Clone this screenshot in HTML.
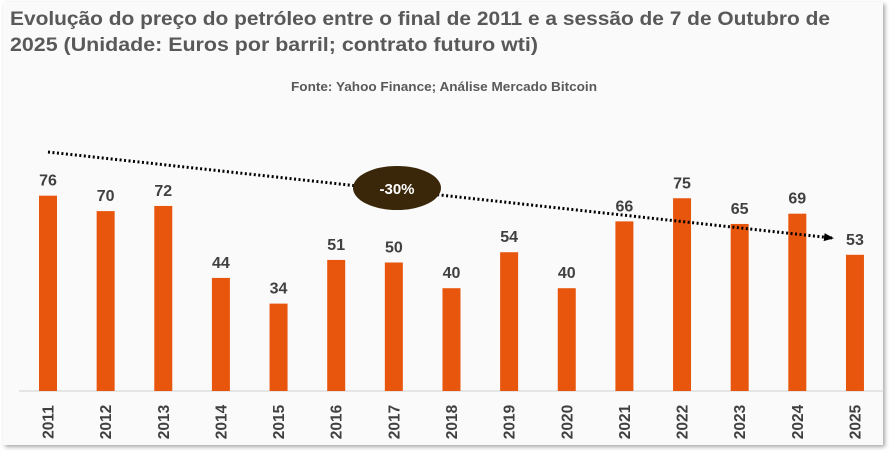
<!DOCTYPE html>
<html><head><meta charset="utf-8"><style>
body{margin:0;width:892px;height:453px;background:#fff;overflow:hidden;font-family:"Liberation Sans",sans-serif}
#card{position:absolute;left:3px;top:2px;width:880px;height:443px;background:#fafafa;box-shadow:2px 2px 4px rgba(0,0,0,0.35)}
</style></head><body>
<div id="card"></div>
<svg id="chart" width="892" height="453" style="position:absolute;left:0;top:0">
<text x="10" y="25" font-size="19" font-weight="bold" fill="#595959" textLength="820" lengthAdjust="spacingAndGlyphs">Evolução do preço do petróleo entre o final de 2011 e a sessão de 7 de Outubro de</text>
<text x="10" y="51" font-size="19" font-weight="bold" fill="#595959" textLength="528" lengthAdjust="spacingAndGlyphs">2025 (Unidade: Euros por barril; contrato futuro wti)</text>
<text x="444" y="91" font-size="12.5" font-weight="bold" fill="#595959" text-anchor="middle" textLength="306" lengthAdjust="spacingAndGlyphs">Fonte: Yahoo Finance; Análise Mercado Bitcoin</text>
<line x1="19" y1="391" x2="884" y2="391" stroke="#d0d0d0" stroke-width="1"/>
<g id="bars"></g>
<defs><marker id="arr" markerUnits="userSpaceOnUse" markerWidth="10" markerHeight="10" refX="8" refY="5" orient="auto"><path d="M0,1 L10,5 L0,9 z" fill="#000"/></marker></defs>
<line x1="48" y1="152" x2="832" y2="238" stroke="#000" stroke-width="3" stroke-dasharray="2,2.5" marker-end="url(#arr)"/>
<ellipse cx="397" cy="188" rx="44" ry="22" fill="#3a2609"/>
<text x="397" y="194" font-size="15" font-weight="bold" fill="#fff" text-anchor="middle">-30%</text>
</svg>
<script>
const years=["2011","2012","2013","2014","2015","2016","2017","2018","2019","2020","2021","2022","2023","2024","2025"];
const prices=[76,70,72,44,34,51,50,40,54,40,66,75,65,69,53];
const ns="http://www.w3.org/2000/svg";
const g=document.getElementById('bars');
const x=i=>48+i*57.64;
const y=v=>391-v*2.57;
years.forEach((yr,i)=>{
 const v=prices[i];
 const r=document.createElementNS(ns,'rect');
 r.setAttribute('x',x(i)-9);r.setAttribute('y',y(v));r.setAttribute('width',18);r.setAttribute('height',391-y(v));r.setAttribute('fill','#e8560e');
 
 
 g.appendChild(r);
 const t=document.createElementNS(ns,'text');
 t.setAttribute('x',x(i));t.setAttribute('y',y(v)-10);t.setAttribute('text-anchor','middle');t.setAttribute('font-size','16');t.setAttribute('font-weight','bold');t.setAttribute('fill','#404040');
 t.textContent=v;
 
 
 g.appendChild(t);
 const l=document.createElementNS(ns,'text');
 l.setAttribute('transform','translate('+(x(i)+5.5)+',422) rotate(-90)');l.setAttribute('text-anchor','middle');l.setAttribute('font-size','15.5');l.setAttribute('font-weight','bold');l.setAttribute('fill','#404040');
 l.textContent=yr;
 
 
 g.appendChild(l);
});
</script>
</body></html>
